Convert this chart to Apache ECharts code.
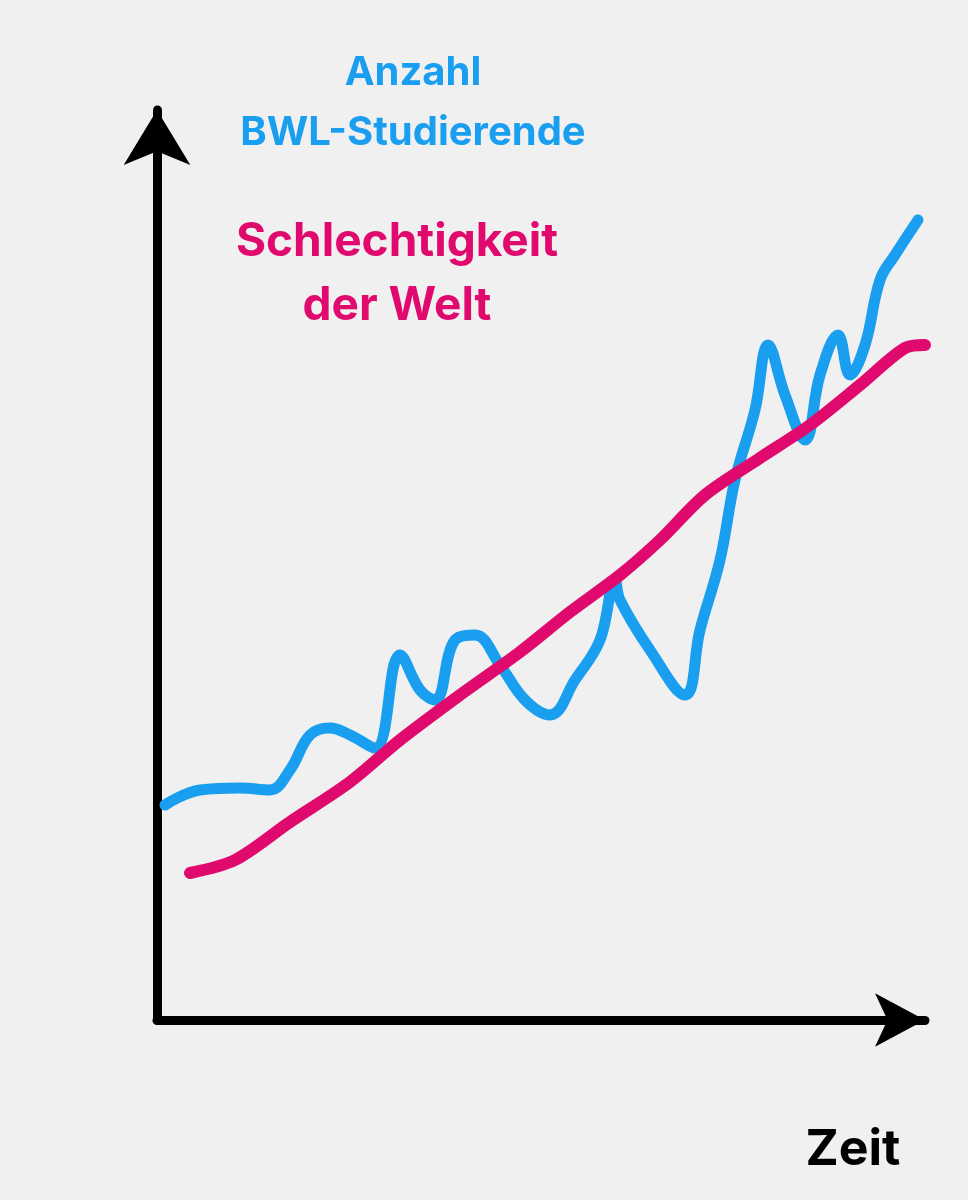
<!DOCTYPE html>
<html>
<head>
<meta charset="utf-8">
<script src="https://cdn.jsdelivr.net/npm/echarts@6/dist/echarts.min.js"></script>
<style>
  html, body { margin: 0; padding: 0; background: #f0f0f0; }
  #chart { width: 968px; height: 1200px; }
</style>
</head>
<body>
<div id="chart"></div>
<script>
  const studentsX = [165, 200, 240, 270, 290, 310, 330, 350, 375, 400, 420, 435, 455, 475, 500, 525, 550, 575, 600, 615, 620, 650, 685, 700, 720, 735, 755, 768, 785, 805, 820, 838, 850, 865, 880, 895, 918];
  const studentsY = [215, 230, 232, 230, 250, 285, 292, 285, 272, 365, 330, 320, 380, 385, 355, 320, 305, 340, 380, 440, 420, 370, 325, 390, 460, 540, 610, 675, 625, 580, 645, 685, 645, 675, 740, 765, 800];
  const badnessX = [190, 235, 290, 350, 400, 460, 520, 570, 620, 660, 705, 760, 810, 860, 905, 925];
  const badnessY = [147, 160, 198, 238, 280, 325, 368, 408, 445, 480, 525, 562, 595, 635, 672, 675];

  const zip = (xs, ys) => xs.map((x, i) => [x, ys[i]]);

  const chart = echarts.init(document.getElementById('chart'));
  chart.setOption({
    backgroundColor: '#f0f0f0',
    animation: false,
    grid: { left: 157, right: 43, top: 110, bottom: 180 },
    xAxis: {
      type: 'value', min: 157, max: 925,
      axisLine: { lineStyle: { color: '#000', width: 9 }, symbol: ['none', 'arrow'], symbolSize: [40, 50] },
      axisTick: { show: false }, axisLabel: { show: false }, splitLine: { show: false }
    },
    yAxis: {
      type: 'value', min: 0, max: 910,
      axisLine: { lineStyle: { color: '#000', width: 9 }, symbol: ['none', 'arrow'], symbolSize: [50, 55] },
      axisTick: { show: false }, axisLabel: { show: false }, splitLine: { show: false }
    },
    title: [
      { text: 'Anzahl\nBWL-Studierende', left: 408, top: 38, textAlign: 'center',
        textStyle: { color: '#1a9ef0', fontSize: 40, fontWeight: 'bold', fontFamily: 'Inter', lineHeight: 60 } },
      { text: 'Schlechtigkeit\nder Welt', left: 392, top: 205, textAlign: 'center',
        textStyle: { color: '#e0096e', fontSize: 46, fontWeight: 'bold', fontFamily: 'Inter', lineHeight: 64 } },
      { text: 'Zeit', left: 848, top: 1120, textAlign: 'center',
        textStyle: { color: '#000', fontSize: 50, fontWeight: 'bold', fontFamily: 'Inter' } }
    ],
    series: [
      {
        type: 'line', data: zip(studentsX, studentsY), smooth: 0.4, symbol: 'none',
        lineStyle: { color: '#1a9ef0', width: 11, cap: 'round', join: 'round' }
      },
      {
        type: 'line', data: zip(badnessX, badnessY), smooth: 0.3, symbol: 'none',
        lineStyle: { color: '#e0096e', width: 12, cap: 'round', join: 'round' }
      }
    ]
  });
</script>
</body>
</html>
